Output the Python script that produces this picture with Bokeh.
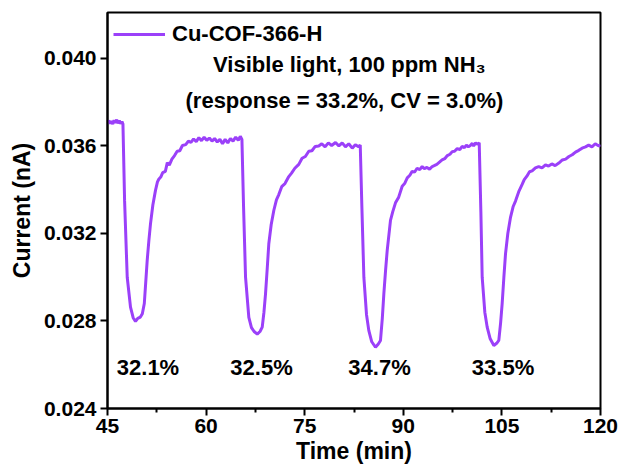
from bokeh.plotting import figure
from bokeh.models import FixedTicker, PrintfTickFormatter, Range1d, Label, Legend, LegendItem
from bokeh.embed import file_html
from bokeh.resources import INLINE

# ---- data ----
time_min = [
    45.0, 45.2, 45.4, 45.6, 45.8, 46.0, 46.2, 46.4, 46.6, 46.8, 47.0, 47.2, 47.35,
    47.6, 48.0, 48.5, 48.9, 49.26, 49.6, 50.0, 50.3, 50.6, 50.8, 51.04, 51.3, 51.54, 51.9,
    52.3, 52.6, 52.8, 53.1, 53.4, 53.8, 54.1, 54.4, 54.8, 55.2, 55.6, 56.0, 56.4, 56.9,
    57.3, 57.7, 58.1, 58.5, 58.9, 59.3, 59.7, 60.1, 60.5, 60.9, 61.3, 61.7, 62.1, 62.5,
    62.9, 63.3, 63.7, 64.1, 64.5, 64.9, 65.2, 65.45,
    65.7, 66.0, 66.5, 66.9, 67.3, 67.78, 68.2, 68.54, 68.8, 69.04, 69.3, 69.54, 69.9,
    70.3, 70.7, 71.06, 71.5, 72.0, 72.58, 73.0, 73.5, 74.1, 74.6, 75.1, 75.62, 76.1,
    76.6, 77.14, 77.6, 78.1, 78.6, 79.1, 79.69, 80.2, 80.7, 81.2, 81.7, 82.23, 82.7,
    83.2, 83.45,
    83.7, 84.0, 84.4, 84.75, 85.2, 85.77, 86.2, 86.53, 86.8, 87.04, 87.3, 87.55, 88.05,
    88.4, 88.81, 89.3, 89.83, 90.2, 90.6, 91.0, 91.35, 91.7, 92.1, 92.5, 92.87, 93.2,
    93.6, 94.0, 94.4, 94.7, 95.1, 95.5, 95.9, 96.3, 96.7, 97.1, 97.44, 97.8, 98.2, 98.6,
    98.96, 99.3, 99.6, 99.9, 100.2, 100.5, 100.7, 101.0, 101.24, 101.55,
    101.8, 102.0, 102.4, 102.76, 103.2, 103.77, 104.2, 104.53, 104.8, 105.04, 105.3,
    105.55, 105.9, 106.31, 106.7, 107.07, 107.6, 108.08, 108.4, 108.8, 109.2, 109.6,
    110.1, 110.6, 111.1, 111.63, 112.1, 112.6, 113.1, 113.66, 114.2, 114.7, 115.2, 115.7,
    116.2, 116.7, 117.2, 117.72, 118.2, 118.7, 119.2, 119.75, 120.0,
]
current_nA = [
    0.03708, 0.03716, 0.03702, 0.03714, 0.03700, 0.03718, 0.03706, 0.03720, 0.03704, 0.03716, 0.03702, 0.03712, 0.03700,
    0.03350, 0.03000, 0.02863, 0.02815, 0.02798, 0.02812, 0.02818, 0.02833, 0.02880, 0.02970, 0.03077, 0.03170, 0.03244, 0.03330,
    0.03397, 0.03436, 0.03448, 0.03458, 0.03478, 0.03484, 0.03524, 0.03512, 0.03540, 0.03556, 0.03576, 0.03578, 0.03602, 0.03606,
    0.03622, 0.03616, 0.03632, 0.03620, 0.03638, 0.03624, 0.03640, 0.03626, 0.03636, 0.03622, 0.03634, 0.03618, 0.03630, 0.03610,
    0.03630, 0.03614, 0.03634, 0.03622, 0.03640, 0.03626, 0.03644, 0.03630,
    0.03320, 0.03000, 0.02817, 0.02770, 0.02752, 0.02740, 0.02752, 0.02772, 0.02840, 0.02924, 0.03040, 0.03153, 0.03240,
    0.03305, 0.03354, 0.03378, 0.03414, 0.03428, 0.03460, 0.03476, 0.03498, 0.03516, 0.03544, 0.03552, 0.03576, 0.03578,
    0.03598, 0.03600, 0.03610, 0.03596, 0.03614, 0.03602, 0.03616, 0.03600, 0.03614, 0.03596, 0.03610, 0.03590, 0.03606,
    0.03596, 0.03604,
    0.03320, 0.03000, 0.02830, 0.02757, 0.02705, 0.02680, 0.02695, 0.02711, 0.02810, 0.02924, 0.03030, 0.03122, 0.03260,
    0.03300, 0.03340, 0.03366, 0.03416, 0.03428, 0.03454, 0.03466, 0.03484, 0.03480, 0.03498, 0.03492, 0.03506, 0.03496,
    0.03502, 0.03494, 0.03506, 0.03510, 0.03516, 0.03526, 0.03536, 0.03542, 0.03556, 0.03562, 0.03574, 0.03576, 0.03588, 0.03584,
    0.03598, 0.03592, 0.03604, 0.03596, 0.03602, 0.03612, 0.03600, 0.03614, 0.03608, 0.03614,
    0.03300, 0.03000, 0.02840, 0.02772, 0.02720, 0.02688, 0.02698, 0.02711, 0.02790, 0.02879, 0.03000,
    0.03107, 0.03200, 0.03274, 0.03322, 0.03348, 0.03394, 0.03424, 0.03446, 0.03462, 0.03482, 0.03486,
    0.03500, 0.03506, 0.03500, 0.03514, 0.03508, 0.03518, 0.03510, 0.03522, 0.03536, 0.03540, 0.03552, 0.03560,
    0.03572, 0.03580, 0.03590, 0.03596, 0.03604, 0.03596, 0.03610, 0.03600, 0.03606,
]
series_name = "Cu-COF-366-H"
x_ticks = [45, 60, 75, 90, 105, 120]
x_minor = [52.5, 67.5, 82.5, 97.5, 112.5]
y_ticks = [0.024, 0.028, 0.032, 0.036, 0.040]
responses = ["32.1%", "32.5%", "34.7%", "33.5%"]
note_line1 = "Visible light, 100 ppm NH\u2083"
note_line2 = "(response = 33.2%, CV = 3.0%)"

FONT = "Liberation Sans"
LINE_COLOR = "#9B40F9"

p = figure(width=621, height=470, output_backend="svg", toolbar_location=None,
           x_range=Range1d(45, 120), y_range=Range1d(0.024, 0.0421),
           min_border_left=107, min_border_right=21, min_border_top=12, min_border_bottom=62)
p.background_fill_color = "white"
p.border_fill_color = "white"
p.grid.visible = False
p.outline_line_color = "black"
p.outline_line_width = 2
p.outline_line_alpha = 1.0

r = p.line(time_min, current_nA, line_color=LINE_COLOR, line_width=3)

# axes
xa = p.xaxis[0]
ya = p.yaxis[0]
xa.ticker = FixedTicker(ticks=x_ticks, minor_ticks=x_minor)
ya.ticker = FixedTicker(ticks=y_ticks, minor_ticks=[])
ya.formatter = PrintfTickFormatter(format="%.3f")
for ax in (xa, ya):
    ax.axis_line_width = 2
    ax.axis_line_color = "black"
    ax.major_tick_line_width = 2
    ax.major_tick_line_color = "black"
    ax.major_tick_out = 7
    ax.major_tick_in = 0
    ax.minor_tick_line_width = 2
    ax.minor_tick_line_color = "black"
    ax.minor_tick_out = 4
    ax.minor_tick_in = 0
    ax.major_label_text_font = FONT
    ax.major_label_text_font_style = "bold"
    ax.major_label_text_font_size = "21px"
    ax.major_label_text_color = "black"
    ax.axis_label_text_font = FONT
    ax.axis_label_text_font_style = "bold"
    ax.axis_label_text_font_size = "23px"
    ax.axis_label_text_color = "black"
xa.major_label_standoff = 3
ya.major_label_standoff = 4
xa.axis_label = "Time (min)"
ya.axis_label = "Current (nA)"
xa.axis_label_standoff = 2
ya.axis_label_standoff = 6

# legend
legend = Legend(items=[LegendItem(label=series_name, renderers=[r])], location="top_left")
legend.border_line_color = None
legend.background_fill_alpha = 0
legend.margin = 6
legend.padding = 0
legend.glyph_width = 52
legend.label_height = 32
legend.label_standoff = 7
legend.label_text_font = FONT
legend.label_text_font_style = "bold"
legend.label_text_font_size = "22px"
legend.label_text_color = "black"
p.add_layout(legend)

def add_label(x, y, txt):
    p.add_layout(Label(x=x, y=y, text=txt, text_align="center", text_baseline="middle",
                       text_font=FONT, text_font_style="bold", text_font_size="22px",
                       text_color="black"))

add_label(81.8, 0.03972, note_line1)
add_label(81.05, 0.03808, note_line2)
for xc, txt in zip([51.16, 68.43, 86.38, 105.17], responses):
    add_label(xc, 0.02587, txt)

open("out.html", "w").write(file_html(p, INLINE))
